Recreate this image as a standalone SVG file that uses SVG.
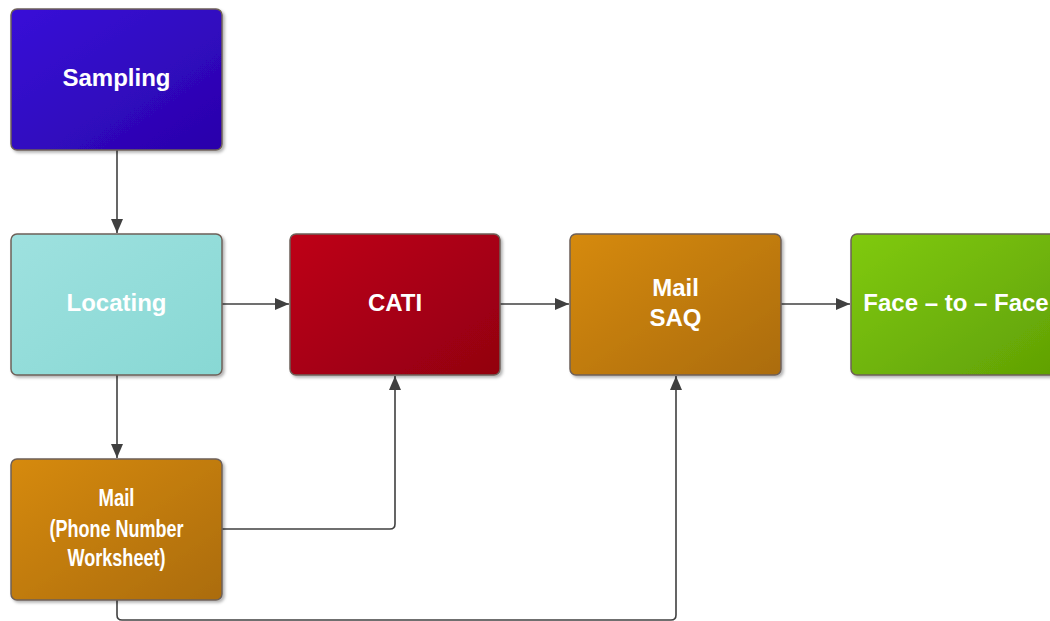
<svg xmlns="http://www.w3.org/2000/svg" width="1050" height="621" viewBox="0 0 1050 621">
<defs>
<linearGradient id="gBlue" x1="0" y1="0" x2="1" y2="1"><stop offset="0" stop-color="#3810d8"/><stop offset="1" stop-color="#2a02aa"/></linearGradient>
<linearGradient id="gCyan" x1="0" y1="0" x2="1" y2="1"><stop offset="0" stop-color="#9ee1df"/><stop offset="1" stop-color="#88d8d4"/></linearGradient>
<linearGradient id="gRed" x1="0" y1="0" x2="1" y2="1"><stop offset="0" stop-color="#be0018"/><stop offset="1" stop-color="#920010"/></linearGradient>
<linearGradient id="gOrange" x1="0" y1="0" x2="1" y2="1"><stop offset="0" stop-color="#d68a0e"/><stop offset="1" stop-color="#ab6c08"/></linearGradient>
<linearGradient id="gGreen" x1="0" y1="0" x2="1" y2="1"><stop offset="0" stop-color="#80ca10"/><stop offset="1" stop-color="#60a004"/></linearGradient>
<filter id="sh" x="-10%" y="-10%" width="130%" height="130%"><feDropShadow dx="2" dy="2" stdDeviation="1.5" flood-color="#000" flood-opacity="0.3"/></filter>
<marker id="arr" markerWidth="14" markerHeight="12" refX="14" refY="6" orient="auto" markerUnits="userSpaceOnUse"><path d="M0,0 L14,6 L0,12 Z" fill="#404040"/></marker>
</defs>
<style>
.box{stroke:#6e6058;stroke-width:1.5;filter:url(#sh)}
.lbl{font-family:"Liberation Sans",Arial,sans-serif;font-weight:bold;font-size:24px;fill:#ffffff;text-anchor:middle}
.cn{fill:none;stroke:#404040;stroke-width:1.6}
</style>
<g id="connectors">
<path class="cn" d="M117,150 V233" marker-end="url(#arr)"/>
<path class="cn" d="M222,304 H289" marker-end="url(#arr)"/>
<path class="cn" d="M500,304 H569" marker-end="url(#arr)"/>
<path class="cn" d="M781,304 H850" marker-end="url(#arr)"/>
<path class="cn" d="M117,375 V458" marker-end="url(#arr)"/>
<path class="cn" d="M222,529 H390 Q395,529 395,524 V376" marker-end="url(#arr)"/>
<path class="cn" d="M117,600 V615 Q117,620 122,620 H671 Q676,620 676,615 V376" marker-end="url(#arr)"/>
</g>
<g id="sampling">
<rect class="box" x="11" y="9" width="211" height="141" rx="6" fill="url(#gBlue)"/>
<text class="lbl" x="116.5" y="86">Sampling</text>
</g>
<g id="locating">
<rect class="box" x="11" y="234" width="211" height="141" rx="6" fill="url(#gCyan)"/>
<text class="lbl" x="116.5" y="311">Locating</text>
</g>
<g id="cati">
<rect class="box" x="290" y="234" width="210" height="141" rx="6" fill="url(#gRed)"/>
<text class="lbl" x="395" y="311">CATI</text>
</g>
<g id="mailsaq">
<rect class="box" x="570" y="234" width="211" height="141" rx="6" fill="url(#gOrange)"/>
<text class="lbl" x="675.5" y="296">Mail</text>
<text class="lbl" x="675.5" y="326">SAQ</text>
</g>
<g id="facetoface">
<rect class="box" x="851" y="234" width="211" height="141" rx="6" fill="url(#gGreen)"/>
<text class="lbl" x="956" y="311">Face – to – Face</text>
</g>
<g id="mailpnw">
<rect class="box" x="11" y="459" width="211" height="141" rx="6" fill="url(#gOrange)"/>
<text class="lbl" x="116.5" y="506" textLength="36" lengthAdjust="spacingAndGlyphs">Mail</text>
<text class="lbl" x="116.5" y="537" textLength="134" lengthAdjust="spacingAndGlyphs">(Phone Number</text>
<text class="lbl" x="116.5" y="566" textLength="98" lengthAdjust="spacingAndGlyphs">Worksheet)</text>
</g>
</svg>
